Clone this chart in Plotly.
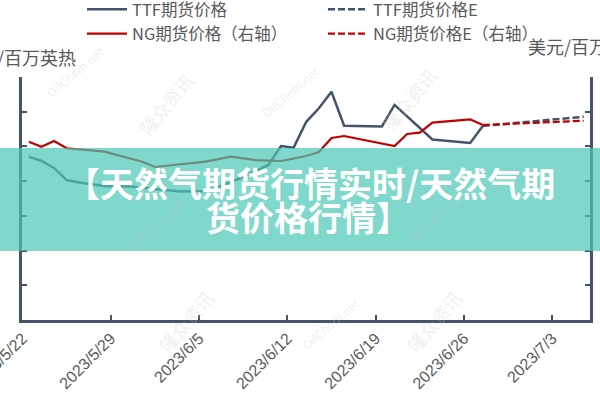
import pandas as pd
import plotly.graph_objects as go

# ---------------- data ----------------
ttf_dates = ["2023-05-22", "2023-05-23", "2023-05-24", "2023-05-25", "2023-05-26",
             "2023-05-28", "2023-05-30", "2023-06-01", "2023-06-03", "2023-06-05",
             "2023-06-06", "2023-06-08", "2023-06-10", "2023-06-11", "2023-06-12",
             "2023-06-13", "2023-06-14", "2023-06-15", "2023-06-16", "2023-06-19",
             "2023-06-20", "2023-06-23", "2023-06-26", "2023-06-27"]
ttf_values = [9.41, 9.16, 8.76, 8.06, 7.92,
              7.72, 7.69, 7.55, 7.40, 7.43,
              7.66, 8.24, 8.93, 10.02, 9.93,
              11.42, 12.20, 13.15, 11.19, 11.15,
              12.39, 10.40, 10.20, 11.18]

ttf_e_dates = ["2023-06-27", "2023-07-05"]
ttf_e_values = [11.18, 11.71]

ng_dates = ["2023-05-22", "2023-05-23", "2023-05-24", "2023-05-25", "2023-05-28",
            "2023-05-31", "2023-06-01", "2023-06-05", "2023-06-07", "2023-06-09",
            "2023-06-11", "2023-06-12", "2023-06-13", "2023-06-14", "2023-06-15",
            "2023-06-16", "2023-06-20", "2023-06-21", "2023-06-22", "2023-06-23",
            "2023-06-26", "2023-06-27"]
ng_values = [2.568, 2.496, 2.578, 2.473, 2.424,
             2.280, 2.204, 2.280, 2.352, 2.304,
             2.290, 2.329, 2.362, 2.420, 2.621,
             2.650, 2.506, 2.679, 2.698, 2.842,
             2.891, 2.809]

ng_e_dates = ["2023-06-27", "2023-07-05"]
ng_e_values = [2.809, 2.870]

tick_dates = ["2023-05-22", "2023-05-29", "2023-06-05", "2023-06-12",
              "2023-06-19", "2023-06-26", "2023-07-03"]
tick_labels = ["2023/5/22", "2023/5/29", "2023/6/5", "2023/6/12",
               "2023/6/19", "2023/6/26", "2023/7/3"]

left_unit = "美元/百万英热"
right_unit = "美元/百万英热"
title_line1 = "【天然气期货行情实时/天然气期"
title_line2 = "货价格行情】"

# ---------------- styling ----------------
SLATE = "#44546A"
RED = "#C00000"
GREY_TXT = "#595959"
CJK = "Noto Sans CJK SC"
L, R, T, B = 22, 10, 77, 80
PW, PH = 600 - L - R, 400 - T - B


def mid_day(ds):
    # points sit in the middle of each day slot (date axis, between tick marks)
    return pd.to_datetime(ds) + pd.Timedelta(hours=12)


def px(xp):
    return (xp - L) / PW


def py(yp):
    return (400 - B - yp) / PH


fig = go.Figure()
fig.add_trace(go.Scatter(x=mid_day(ttf_dates), y=ttf_values, mode="lines",
                         name="TTF期货价格", line=dict(color=SLATE, width=2.5)))
fig.add_trace(go.Scatter(x=mid_day(ttf_e_dates), y=ttf_e_values, mode="lines",
                         name="TTF期货价格E",
                         line=dict(color=SLATE, width=2.5, dash="7px,3px")))
fig.add_trace(go.Scatter(x=mid_day(ng_dates), y=ng_values, mode="lines",
                         name="NG期货价格（右轴）", yaxis="y2",
                         line=dict(color=RED, width=2.2)))
fig.add_trace(go.Scatter(x=mid_day(ng_e_dates), y=ng_e_values, mode="lines",
                         name="NG期货价格E（右轴）", yaxis="y2",
                         line=dict(color=RED, width=2.2, dash="7px,3px")))

fig.update_layout(
    width=600, height=400,
    margin=dict(l=L, r=R, t=T, b=B, autoexpand=False),
    paper_bgcolor="white", plot_bgcolor="white",
    font=dict(family=CJK, color=GREY_TXT),
    showlegend=True,
    legend=dict(orientation="h", xref="container", x=82 / 600, xanchor="left",
                yref="paper", y=py(-8), yanchor="top",
                entrywidth=186, tracegroupgap=0,
                font=dict(size=16.5, color=GREY_TXT, family=CJK),
                bgcolor="rgba(0,0,0,0)", itemwidth=40),
    xaxis=dict(type="date", range=["2023-05-21 23:00", "2023-07-06"],
               automargin=False, ticklabeloverflow="allow",
               tickmode="array", tickvals=tick_dates, ticktext=tick_labels,
               tickangle=-45, ticks="inside", ticklen=5, tickwidth=2, tickcolor=SLATE,
               showline=True, linecolor=SLATE, linewidth=2.5, showgrid=False,
               zeroline=False,
               tickfont=dict(size=16, color=GREY_TXT, family="Liberation Sans")),
    yaxis=dict(range=[0, 14], dtick=2, ticks="inside", ticklen=5, tickwidth=2,
               automargin=False, ticklabeloverflow="allow",
               tickcolor=SLATE, showline=True, linecolor=SLATE, linewidth=2.5,
               showgrid=False, zeroline=False, ticklabelstandoff=17,
               tickfont=dict(size=16, color=GREY_TXT, family="Liberation Sans")),
    yaxis2=dict(range=[0, 3.5], dtick=0.5, overlaying="y", side="right",
                automargin=False,
                ticks="inside", ticklen=5, tickwidth=2, tickcolor=SLATE,
                showline=True, linecolor=SLATE, linewidth=2.5, showgrid=False,
                zeroline=False, showticklabels=False),
)

# unit labels
fig.add_annotation(text=left_unit, xref="paper", yref="paper",
                   x=px(78), y=py(57), xanchor="right", yanchor="middle",
                   showarrow=False, font=dict(size=18, color=GREY_TXT, family=CJK))
fig.add_annotation(text=right_unit, xref="paper", yref="paper",
                   x=px(526), y=py(46), xanchor="left", yanchor="middle",
                   showarrow=False, font=dict(size=18, color=GREY_TXT, family=CJK))

# faint watermarks
wm = [("隆众资讯", 130, 65), ("隆众资讯", 445, 60), ("隆众资讯", 150, 360),
      ("隆众资讯", 470, 360), ("OilChem.net", 40, 40), ("OilChem.net", 290, 60),
      ("OilChem.net", 330, 355), ("OilChem.net", 120, 225), ("OilChem.net", 470, 250)]
for t, xp, yp in wm:
    fig.add_annotation(text=t, xref="paper", yref="paper",
                       x=px(xp), y=py(yp), showarrow=False,
                       textangle=-50 if "隆" in t else -40,
                       font=dict(size=18 if "隆" in t else 12,
                                 color="rgba(200,200,200,0.3)", family=CJK))

# teal banner over the chart
fig.add_shape(type="rect", xref="paper", yref="paper",
              x0=px(-5), x1=px(605), y0=py(251), y1=py(148),
              fillcolor="rgba(74,199,182,0.7)", line=dict(width=0), layer="above")
fig.add_annotation(text="<b>" + title_line1 + "</b>", xref="paper", yref="paper",
                   x=px(310), y=py(182), showarrow=False,
                   xanchor="center", yanchor="middle",
                   font=dict(size=34, color="white", family=CJK))
fig.add_annotation(text="<b>" + title_line2 + "</b>", xref="paper", yref="paper",
                   x=px(308), y=py(216), showarrow=False,
                   xanchor="center", yanchor="middle",
                   font=dict(size=34, color="white", family=CJK))

fig.write_html("out.html", config={"displayModeBar": False},
               post_script="document.body.style.margin='0px';")
